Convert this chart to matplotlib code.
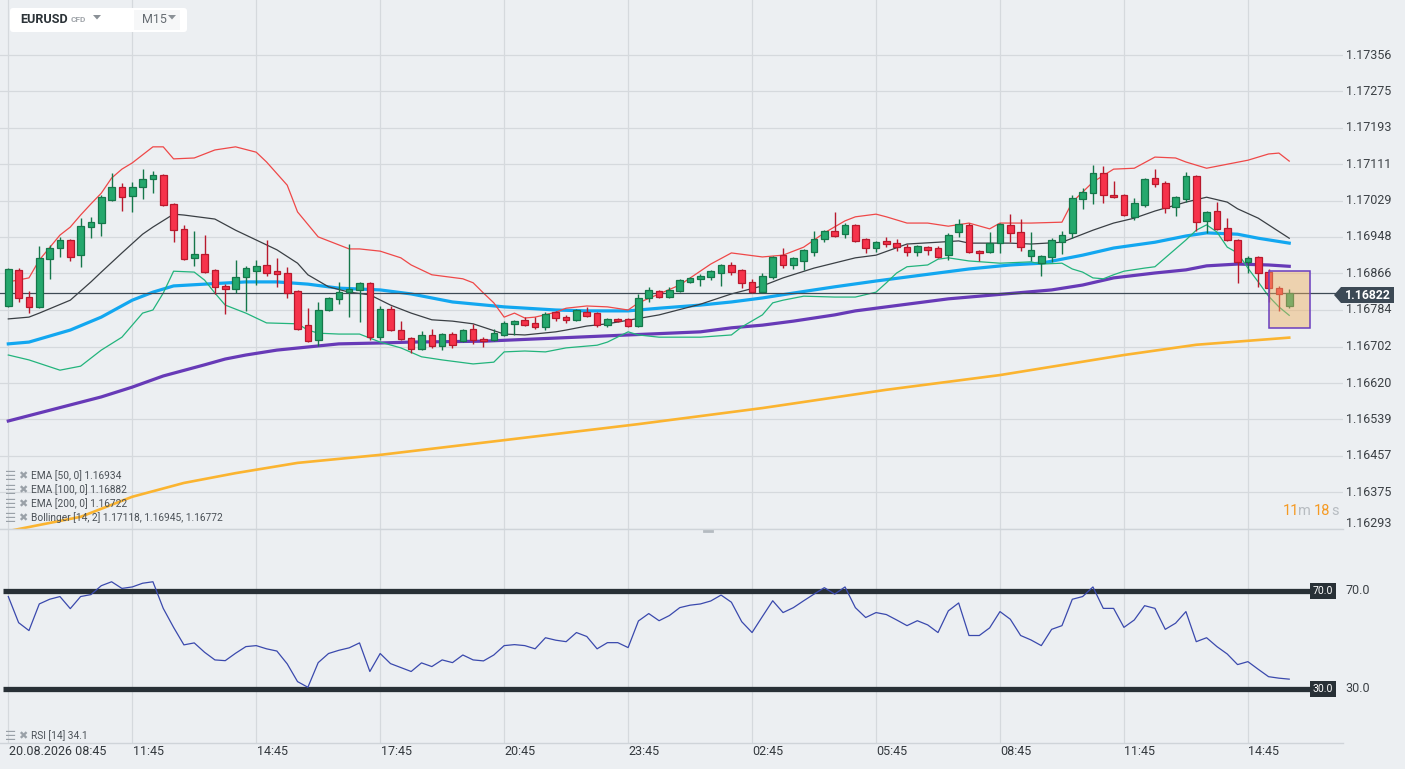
import matplotlib.pyplot as plt
import matplotlib.transforms as mtransforms
from matplotlib.patches import FancyBboxPatch, Rectangle, Polygon
from matplotlib.lines import Line2D

plt.rcParams['font.family'] = ['Roboto', 'DejaVu Sans']

W, H = 1405, 769
BG = '#eceff2'
GRID = '#d5d9dd'
STEP = 10.33  # pixels per candle

# EURUSD M15 candles, index 0 = 20.08.2026 08:45
opens = [1.16793, 1.16874, 1.16813, 1.16791, 1.16898, 1.16923, 1.16941, 1.16907, 1.16970, 1.16979,
         1.17031, 1.17060, 1.17040, 1.17060, 1.17078, 1.17087, 1.17022, 1.16966, 1.16901, 1.16910,
         1.16874, 1.16838, 1.16831, 1.16858, 1.16871, 1.16885, 1.16871, 1.16867, 1.16827, 1.16750,
         1.16717, 1.16784, 1.16809, 1.16824, 1.16829, 1.16845, 1.16723, 1.16786, 1.16739, 1.16721,
         1.16696, 1.16728, 1.16703, 1.16730, 1.16714, 1.16741, 1.16719, 1.16717, 1.16728, 1.16753,
         1.16762, 1.16755, 1.16746, 1.16780, 1.16768, 1.16762, 1.16780, 1.16777, 1.16750, 1.16764,
         1.16764, 1.16748, 1.16811, 1.16827, 1.16813, 1.16827, 1.16847, 1.16854, 1.16858, 1.16867,
         1.16885, 1.16874, 1.16847, 1.16824, 1.16858, 1.16907, 1.16885, 1.16894, 1.16914, 1.16943,
         1.16961, 1.16954, 1.16975, 1.16943, 1.16923, 1.16939, 1.16934, 1.16925, 1.16914, 1.16925,
         1.16923, 1.16907, 1.16959, 1.16975, 1.16916, 1.16914, 1.16934, 1.16975, 1.16959, 1.16905,
         1.16889, 1.16903, 1.16936, 1.16957, 1.17033, 1.17046, 1.17091, 1.17042, 1.17042, 1.16993,
         1.17020, 1.17080, 1.17069, 1.17015, 1.17033, 1.17085, 1.16984, 1.17006, 1.16968, 1.16941,
         1.16892, 1.16903, 1.16869, 1.16833, 1.16793]
highs = [1.16878, 1.16878, 1.16827, 1.16928, 1.16930, 1.16948, 1.16943, 1.16990, 1.16993, 1.17042,
         1.17091, 1.17069, 1.17071, 1.17100, 1.17096, 1.17089, 1.17024, 1.16975, 1.16961, 1.16952,
         1.16876, 1.16842, 1.16896, 1.16883, 1.16896, 1.16941, 1.16901, 1.16881, 1.16829, 1.16788,
         1.16802, 1.16813, 1.16847, 1.16932, 1.16847, 1.16847, 1.16793, 1.16793, 1.16759, 1.16723,
         1.16737, 1.16742, 1.16732, 1.16735, 1.16741, 1.16753, 1.16723, 1.16741, 1.16759, 1.16762,
         1.16768, 1.16768, 1.16780, 1.16782, 1.16773, 1.16786, 1.16791, 1.16780, 1.16766, 1.16766,
         1.16766, 1.16820, 1.16836, 1.16829, 1.16836, 1.16854, 1.16858, 1.16865, 1.16874, 1.16887,
         1.16892, 1.16876, 1.16854, 1.16867, 1.16905, 1.16923, 1.16903, 1.16921, 1.16961, 1.16963,
         1.17004, 1.16979, 1.16977, 1.16945, 1.16939, 1.16948, 1.16943, 1.16932, 1.16930, 1.16928,
         1.16928, 1.16957, 1.16988, 1.16979, 1.16919, 1.16959, 1.16979, 1.16999, 1.16988, 1.16959,
         1.16907, 1.16945, 1.16961, 1.17042, 1.17058, 1.17109, 1.17107, 1.17073, 1.17044, 1.17035,
         1.17080, 1.17100, 1.17073, 1.17040, 1.17094, 1.17087, 1.17006, 1.17026, 1.16990, 1.16943,
         1.16905, 1.16905, 1.16876, 1.16838, 1.16831]
lows = [1.16791, 1.16802, 1.16777, 1.16788, 1.16854, 1.16903, 1.16894, 1.16881, 1.16945, 1.16950,
        1.17028, 1.17006, 1.17004, 1.17033, 1.17046, 1.17017, 1.16936, 1.16896, 1.16883, 1.16867,
        1.16820, 1.16775, 1.16822, 1.16782, 1.16840, 1.16860, 1.16836, 1.16811, 1.16739, 1.16712,
        1.16703, 1.16782, 1.16797, 1.16768, 1.16757, 1.16717, 1.16717, 1.16737, 1.16717, 1.16687,
        1.16694, 1.16699, 1.16694, 1.16699, 1.16712, 1.16708, 1.16701, 1.16714, 1.16726, 1.16728,
        1.16748, 1.16742, 1.16739, 1.16759, 1.16755, 1.16759, 1.16768, 1.16746, 1.16746, 1.16757,
        1.16746, 1.16746, 1.16802, 1.16811, 1.16811, 1.16824, 1.16845, 1.16838, 1.16851, 1.16838,
        1.16863, 1.16833, 1.16822, 1.16822, 1.16854, 1.16878, 1.16876, 1.16874, 1.16905, 1.16936,
        1.16948, 1.16945, 1.16936, 1.16912, 1.16914, 1.16925, 1.16916, 1.16905, 1.16905, 1.16907,
        1.16901, 1.16896, 1.16948, 1.16912, 1.16894, 1.16912, 1.16912, 1.16936, 1.16916, 1.16894,
        1.16860, 1.16892, 1.16910, 1.16945, 1.17011, 1.17022, 1.17024, 1.17035, 1.16995, 1.16986,
        1.17015, 1.17060, 1.17002, 1.16995, 1.17026, 1.16961, 1.16957, 1.16963, 1.16939, 1.16845,
        1.16867, 1.16836, 1.16802, 1.16782, 1.16788]
closes = [1.16876, 1.16811, 1.16791, 1.16901, 1.16923, 1.16941, 1.16903, 1.16972, 1.16981, 1.17037,
          1.17060, 1.17037, 1.17060, 1.17078, 1.17087, 1.17020, 1.16963, 1.16898, 1.16910, 1.16869,
          1.16836, 1.16831, 1.16858, 1.16878, 1.16883, 1.16867, 1.16865, 1.16822, 1.16742, 1.16714,
          1.16784, 1.16811, 1.16824, 1.16831, 1.16845, 1.16723, 1.16786, 1.16739, 1.16719, 1.16696,
          1.16728, 1.16703, 1.16730, 1.16705, 1.16739, 1.16717, 1.16714, 1.16732, 1.16755, 1.16759,
          1.16750, 1.16746, 1.16775, 1.16766, 1.16762, 1.16784, 1.16771, 1.16750, 1.16764, 1.16759,
          1.16749, 1.16811, 1.16829, 1.16813, 1.16829, 1.16851, 1.16856, 1.16860, 1.16871, 1.16885,
          1.16869, 1.16845, 1.16824, 1.16860, 1.16903, 1.16885, 1.16901, 1.16919, 1.16943, 1.16961,
          1.16950, 1.16975, 1.16939, 1.16923, 1.16936, 1.16932, 1.16925, 1.16914, 1.16928, 1.16919,
          1.16903, 1.16952, 1.16977, 1.16914, 1.16912, 1.16934, 1.16977, 1.16957, 1.16925, 1.16919,
          1.16905, 1.16941, 1.16952, 1.17035, 1.17049, 1.17091, 1.17042, 1.17037, 1.16997, 1.17024,
          1.17078, 1.17067, 1.17013, 1.17037, 1.17085, 1.16981, 1.17004, 1.16966, 1.16941, 1.16892,
          1.16901, 1.16867, 1.16833, 1.16820, 1.16822]

# indicator lines, read at sampled candle indices
bb_up_idx = [0, 2, 3, 5, 6, 7, 8, 9, 10, 11, 12, 14, 15, 16, 18, 20, 22, 24, 25, 27, 28, 30, 33, 34,
             36, 38, 39, 41, 44, 45, 46, 47, 48, 49, 50, 51, 53, 54, 56, 58, 60, 61, 65, 68, 70, 73,
             75, 77, 79, 81, 82, 84, 85, 87, 89, 91, 93, 95, 96, 99, 102, 103, 105, 107, 109, 111,
             113, 114, 116, 118, 120, 122, 123, 124]
bb_up = [1.16847, 1.16856, 1.16896, 1.16952, 1.16970, 1.16997, 1.17022, 1.17046, 1.17080, 1.17100,
         1.17114, 1.17150, 1.17150, 1.17123, 1.17125, 1.17143, 1.17150, 1.17138, 1.17116, 1.17064,
         1.17004, 1.16948, 1.16921, 1.16921, 1.16916, 1.16901, 1.16885, 1.16863, 1.16854, 1.16845,
         1.16822, 1.16800, 1.16768, 1.16777, 1.16766, 1.16768, 1.16779, 1.16788, 1.16793, 1.16791,
         1.16784, 1.16800, 1.16840, 1.16887, 1.16912, 1.16903, 1.16907, 1.16925, 1.16957, 1.16984,
         1.16993, 1.16999, 1.16993, 1.16979, 1.16979, 1.16972, 1.16979, 1.16966, 1.16979, 1.16979,
         1.16981, 1.17026, 1.17071, 1.17100, 1.17102, 1.17127, 1.17125, 1.17116, 1.17102, 1.17111,
         1.17120, 1.17134, 1.17136, 1.17118]
bb_mid_idx = [0, 2, 3, 6, 8, 9, 11, 13, 14, 16, 17, 20, 22, 26, 28, 29, 31, 33, 35, 37, 39, 41, 43,
              45, 48, 50, 53, 54, 56, 58, 60, 63, 67, 70, 73, 75, 78, 82, 84, 87, 90, 92, 93, 97, 99,
              102, 105, 107, 109, 111, 114, 116, 118, 119, 121, 124]
bb_mid = [1.16764, 1.16768, 1.16777, 1.16806, 1.16847, 1.16869, 1.16912, 1.16954, 1.16970, 1.16999,
          1.16997, 1.16988, 1.16963, 1.16919, 1.16889, 1.16863, 1.16836, 1.16824, 1.16818, 1.16795,
          1.16777, 1.16762, 1.16759, 1.16753, 1.16730, 1.16728, 1.16735, 1.16739, 1.16748, 1.16753,
          1.16761, 1.16773, 1.16797, 1.16820, 1.16838, 1.16856, 1.16878, 1.16901, 1.16907, 1.16932,
          1.16936, 1.16939, 1.16934, 1.16934, 1.16932, 1.16936, 1.16963, 1.16979, 1.16990, 1.17006,
          1.17026, 1.17037, 1.17026, 1.17011, 1.16990, 1.16945]
bb_lo_idx = [0, 2, 5, 7, 9, 11, 13, 14, 15, 16, 18, 19, 20, 21, 23, 25, 28, 29, 30, 32, 34, 36, 38,
             40, 42, 45, 47, 48, 50, 52, 54, 57, 58, 60, 61, 63, 67, 70, 71, 73, 74, 75, 77, 80, 82,
             84, 85, 86, 87, 89, 90, 91, 93, 96, 99, 100, 102, 103, 104, 105, 106, 107, 108, 110,
             111, 112, 114, 115, 116, 117, 118, 119, 120, 121, 122, 123, 124]
bb_lo = [1.16683, 1.16672, 1.16649, 1.16658, 1.16694, 1.16723, 1.16777, 1.16784, 1.16822, 1.16871,
         1.16869, 1.16851, 1.16822, 1.16795, 1.16777, 1.16755, 1.16753, 1.16739, 1.16732, 1.16730,
         1.16730, 1.16712, 1.16699, 1.16679, 1.16672, 1.16663, 1.16667, 1.16690, 1.16692, 1.16690,
         1.16699, 1.16705, 1.16712, 1.16735, 1.16728, 1.16723, 1.16723, 1.16728, 1.16746, 1.16773,
         1.16800, 1.16806, 1.16815, 1.16813, 1.16813, 1.16824, 1.16845, 1.16867, 1.16881, 1.16885,
         1.16898, 1.16901, 1.16894, 1.16889, 1.16892, 1.16887, 1.16889, 1.16876, 1.16869, 1.16856,
         1.16854, 1.16863, 1.16871, 1.16878, 1.16881, 1.16901, 1.16941, 1.16963, 1.16975, 1.16959,
         1.16925, 1.16912, 1.16878, 1.16847, 1.16815, 1.16791, 1.16772]
ema50_idx = [0, 2, 6, 9, 12, 14, 16, 19, 23, 26, 29, 32, 36, 39, 43, 48, 53, 56, 60, 63, 67, 70, 73,
             76, 80, 84, 87, 90, 93, 97, 100, 104, 107, 111, 114, 116, 119, 121, 124]
ema50 = [1.16708, 1.16712, 1.16739, 1.16768, 1.16806, 1.16824, 1.16838, 1.16842, 1.16847, 1.16847,
         1.16842, 1.16833, 1.16829, 1.16820, 1.16802, 1.16791, 1.16784, 1.16782, 1.16782, 1.16788,
         1.16795, 1.16802, 1.16811, 1.16822, 1.16836, 1.16849, 1.16858, 1.16867, 1.16876, 1.16885,
         1.16889, 1.16907, 1.16923, 1.16936, 1.16950, 1.16957, 1.16954, 1.16945, 1.16934]
ema100_idx = [0, 3, 6, 9, 12, 15, 19, 21, 23, 26, 29, 32, 36, 39, 46, 53, 60, 67, 70, 73, 76, 80,
              82, 91, 101, 104, 107, 111, 114, 116, 119, 122, 124]
ema100 = [1.16535, 1.16553, 1.16571, 1.16589, 1.16611, 1.16636, 1.16661, 1.16674, 1.16683, 1.16694,
          1.16701, 1.16708, 1.16710, 1.16712, 1.16714, 1.16721, 1.16728, 1.16735, 1.16744, 1.16750,
          1.16759, 1.16773, 1.16782, 1.16809, 1.16829, 1.16840, 1.16856, 1.16867, 1.16874, 1.16883,
          1.16887, 1.16885, 1.16882]
ema200_idx = [0, 7, 12, 17, 22, 28, 36, 48, 61, 73, 85, 96, 108, 115, 124]
ema200 = [1.16288, 1.16320, 1.16365, 1.16396, 1.16418, 1.16441, 1.16459, 1.16492, 1.16528, 1.16564,
          1.16605, 1.16638, 1.16683, 1.16706, 1.16722]

rsi = [67.6, 57.0, 53.8, 64.6, 66.5, 67.6, 62.7, 67.6, 68.4, 72.0,
       73.6, 70.9, 71.5, 73.0, 73.6, 62.8, 55.1, 48.0, 48.8, 45.0,
       41.9, 41.6, 44.6, 47.3, 47.7, 46.4, 45.5, 40.3, 33.1, 30.8,
       40.8, 44.5, 45.8, 46.8, 48.8, 37.2, 44.5, 40.4, 38.8, 37.2,
       40.7, 39.2, 41.9, 40.8, 43.9, 41.9, 41.5, 43.9, 47.7, 48.1,
       47.7, 46.4, 50.9, 49.9, 49.3, 53.0, 51.4, 46.4, 48.9, 48.9,
       46.9, 57.7, 60.7, 57.8, 59.9, 63.1, 64.1, 64.6, 65.8, 68.2,
       65.3, 57.4, 53.0, 59.5, 65.9, 61.1, 63.1, 65.9, 68.6, 71.2,
       68.6, 71.5, 63.1, 59.1, 61.1, 60.3, 58.1, 55.8, 57.8, 56.1,
       53.0, 61.8, 65.0, 51.8, 51.8, 54.9, 61.5, 58.4, 51.8, 50.0,
       47.7, 54.3, 55.8, 66.5, 67.6, 71.5, 62.8, 62.8, 55.1, 58.1,
       63.9, 62.8, 54.3, 56.8, 61.5, 49.3, 50.9, 47.3, 44.3, 40.0,
       41.2, 38.1, 35.1, 34.5, 34.1]

time_ticks = [0, 12, 24, 36, 48, 60, 72, 84, 96, 108, 120]
time_labels = ['20.08.2026 08:45', '11:45', '14:45', '17:45', '20:45', '23:45',
               '02:45', '05:45', '08:45', '11:45', '14:45']
price_ticks = [1.17356, 1.17275, 1.17193, 1.17111, 1.17029, 1.16948, 1.16866,
               1.16784, 1.16702, 1.16620, 1.16539, 1.16457, 1.16375, 1.16293]
last_price = 1.16822
legend_rows = ['EMA [50, 0] 1.16934', 'EMA [100, 0] 1.16882', 'EMA [200, 0] 1.16722',
               'Bollinger [14, 2] 1.17118, 1.16945, 1.16772']

fig = plt.figure(figsize=(W / 100, H / 100), dpi=100, facecolor=BG)
# pixel coordinates (origin top-left) for decorations
PX = mtransforms.Affine2D().scale(1 / W, -1 / H).translate(0, 1) + fig.transFigure

main = fig.add_axes([0, 1 - 529 / H, 1343 / W, 529 / H])
rsi_ax = fig.add_axes([0, 1 - 743 / H, 1343 / W, 214 / H])
for ax in (main, rsi_ax):
    ax.set_facecolor(BG)
    ax.set_xlim(-8.3 / STEP, (1343 - 8.3) / STEP)
    for s in ax.spines.values():
        s.set_visible(False)
    ax.set_xticks([])
    ax.set_yticks([])
    for t in time_ticks:
        ax.axvline(t, color=GRID, lw=0.9, zorder=0)

main.set_ylim(1.162927, 1.174794)
for p in price_ticks:
    main.axhline(p, color=GRID, lw=0.9, zorder=0)
ytr = main.get_yaxis_transform()
for p in price_ticks:
    yy = p + 0.00011 if p == price_ticks[-1] else p
    main.text(1346 / 1343, yy, f'{p:.5f}', transform=ytr, ha='left', va='center',
              fontsize=9, color='#3b4045', clip_on=False)

# indicators
main.plot(ema200_idx, ema200, color='#fbb430', lw=1.9, zorder=2)
main.plot(ema100_idx, ema100, color='#673ab7', lw=2.3, zorder=2)
main.plot(ema50_idx, ema50, color='#12a7f0', lw=2.3, zorder=2)
main.plot(bb_up_idx, bb_up, color='#ef4848', lw=0.9, zorder=2)
main.plot(bb_mid_idx, bb_mid, color='#3a3f44', lw=0.9, zorder=2)
main.plot(bb_lo_idx, bb_lo, color='#22b47c', lw=0.9, zorder=2)

main.axhline(last_price, color='#3d4a55', lw=0.9, zorder=2.5)

# candles
for i in range(len(opens)):
    o, h, l, c = opens[i], highs[i], lows[i], closes[i]
    up = c >= o
    face = '#25a86d' if up else '#f6334b'
    edge = '#15774a' if up else '#b8192d'
    main.vlines(i, l, h, color=edge, lw=1.0, zorder=3)
    main.add_patch(Rectangle((i - 0.32, min(o, c)), 0.64, max(abs(c - o), 0.000012),
                             facecolor=face, edgecolor=edge, lw=0.9, zorder=4))

# highlighted box around the last candles
main.add_patch(Rectangle((122.0, 1.16744), 4.0, 0.00127, facecolor='#f0af5f',
                         alpha=0.45, edgecolor='none', zorder=5))
main.add_patch(Rectangle((122.0, 1.16744), 4.0, 0.00127, facecolor='none',
                         edgecolor='#6a3dbf', lw=1.1, zorder=6))

# RSI panel
rsi_ax.set_ylim(8.2, 95.0)
rsi_ax.hlines([70, 30], -0.5, 126.0, color='#283036', lw=3.8, zorder=2)
rsi_ax.plot(range(len(rsi)), rsi, color='#3a49ad', lw=0.9, zorder=3)
xtr = rsi_ax.get_xaxis_transform()
for t, lab in zip(time_ticks, time_labels):
    rsi_ax.text(t + 0.05, -0.042, lab, transform=xtr, ha='left', va='center',
                fontsize=9, color='#33383d', clip_on=False)

# panel separators
fig.add_artist(Line2D([0, 1343], [529, 529], color='#cfd4d9', lw=1, transform=PX))
fig.add_artist(Line2D([0, 1343], [743, 743], color='#cfd4d9', lw=1, transform=PX))
fig.add_artist(Line2D([704, 712], [530.5, 530.5], color='#b5bbc1', lw=2, transform=PX))

# last price tag
fig.add_artist(Polygon([(1334, 295), (1341, 287), (1394, 287), (1394, 303), (1341, 303)],
                       closed=True, facecolor='#3c4955', edgecolor='none', transform=PX))
fig.text(1345, 295.5, '1.16822', transform=PX, ha='left', va='center', fontsize=8.8,
         fontweight='bold', color='white')

# RSI level tags
for lvl, yy in ((70, 591), (30, 689)):
    fig.add_artist(Rectangle((1310, yy - 8), 26, 16, facecolor='#283036', edgecolor='none',
                             transform=PX))
    fig.text(1323, yy, f'{lvl:.1f}', transform=PX, ha='center', va='center', fontsize=7.5,
             color='white')
    fig.text(1345, yy, f'{lvl:.1f}', transform=PX, ha='left', va='center', fontsize=9,
             color='#3b4045')

# countdown
fig.text(1283, 511, '11', transform=PX, ha='left', va='center', fontsize=10.5, color='#f59a23')
fig.text(1298, 511, 'm', transform=PX, ha='left', va='center', fontsize=10.5, color='#b7bcc1')
fig.text(1314, 511, '18', transform=PX, ha='left', va='center', fontsize=10.5, color='#f59a23')
fig.text(1331, 511, 's', transform=PX, ha='left', va='center', fontsize=10.5, color='#b7bcc1')

# indicator legend
for k, row in enumerate(legend_rows + ['RSI [14] 34.1']):
    yy = [476, 490, 504, 518, 736][k]
    fig.text(5, yy, '☰', transform=PX, ha='left', va='center', fontsize=9, color='#9aa1a8')
    fig.text(18, yy, '✖', transform=PX, ha='left', va='center', fontsize=8, color='#9aa1a8')
    fig.text(31, yy, row, transform=PX, ha='left', va='center', fontsize=7.3, color='#4b5157')

# symbol header
fig.add_artist(FancyBboxPatch((10, 8), 177, 24, boxstyle='round,pad=0,rounding_size=3',
                              facecolor='white', edgecolor='none', transform=PX, zorder=5))
fig.add_artist(Rectangle((134, 10), 46, 20, facecolor='#f6f7f8', edgecolor='none',
                         transform=PX, zorder=5))
fig.text(20, 19.5, 'EURUSD', transform=PX, ha='left', va='center', fontsize=9.1,
         fontweight='bold', color='#2c3338', zorder=6)
fig.text(71, 20, 'CFD', transform=PX, ha='left', va='center', fontsize=6,
         fontweight='bold', color='#a0a5aa', zorder=6)
fig.text(142, 19.5, 'M15', transform=PX, ha='left', va='center', fontsize=9,
         color='#666c72', zorder=6)
for cx in (97, 172):
    fig.add_artist(Polygon([(cx - 4, 15), (cx + 4, 15), (cx, 19.5)], closed=True,
                           facecolor='#8a9096', edgecolor='none', transform=PX, zorder=6))

fig.savefig('out.png', dpi=100, facecolor=BG)
